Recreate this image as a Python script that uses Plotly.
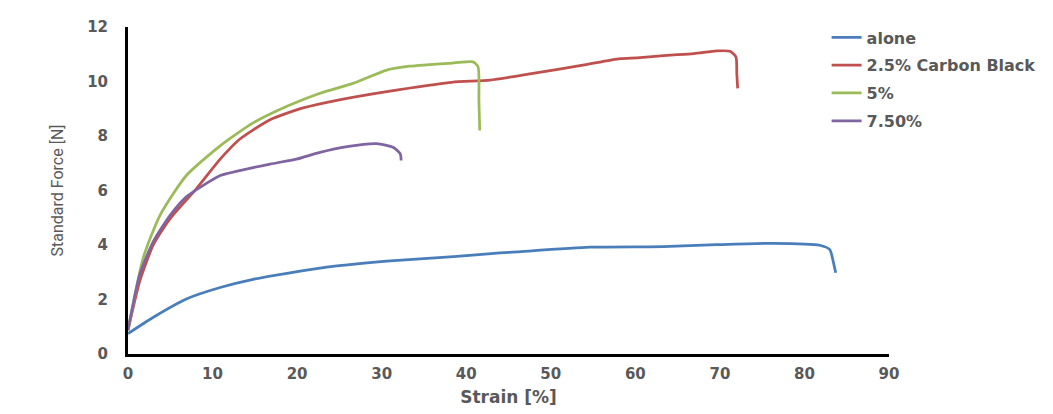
import plotly.graph_objects as go

# ---- data ----
alone_x = [0, 3.0, 6.9, 10.9, 14.8, 18.8, 24.7, 30.6, 38.5, 44.0, 46.0, 54.6, 63.3, 69.6, 76.3, 81.8, 83.0, 83.4, 83.7]
alone_y = [0.75, 1.35, 2.02, 2.44, 2.74, 2.96, 3.23, 3.41, 3.57, 3.71, 3.75, 3.92, 3.94, 4.01, 4.06, 3.99, 3.83, 3.4, 2.98]

cb25_x = [0, 1.4, 3.0, 5.0, 8.1, 10.9, 13.2, 16.8, 20.7, 24.7, 30.6, 38.3, 42.8, 47.9, 53.8, 58.2, 60.2, 63.7, 66.9, 69.6, 71.2, 71.9, 72.0, 72.1]
cb25_y = [0.87, 2.68, 4.01, 4.98, 6.07, 7.15, 7.88, 8.6, 9.03, 9.31, 9.63, 9.97, 10.05, 10.3, 10.6, 10.84, 10.87, 10.96, 11.02, 11.12, 11.11, 10.9, 10.3, 9.75]

cb5_x = [0, 1.8, 3.8, 6.9, 10.9, 14.8, 18.8, 22.7, 26.6, 30.6, 33.3, 38.5, 40.8, 41.4, 41.5, 41.6]
cb5_y = [0.87, 3.53, 5.1, 6.55, 7.64, 8.48, 9.09, 9.57, 9.93, 10.42, 10.56, 10.68, 10.72, 10.54, 9.3, 8.2]

cb75_x = [0, 1.4, 3.0, 5.0, 6.9, 8.9, 10.9, 13.2, 16.8, 19.9, 22.7, 25.9, 29.4, 31.4, 32.2, 32.3]
cb75_y = [0.87, 2.93, 4.13, 5.1, 5.77, 6.19, 6.55, 6.73, 6.97, 7.15, 7.4, 7.61, 7.72, 7.58, 7.34, 7.1]

series_names = ["alone", "2.5% Carbon Black", "5%", "7.50%"]
series_colors = ["#4A7EBB", "#C0504D", "#9BBB59", "#8064A2"]

x_ticks = [0, 10, 20, 30, 40, 50, 60, 70, 80, 90]
y_ticks = [0, 2, 4, 6, 8, 10, 12]

fig = go.Figure()
for i, (xs, ys) in enumerate([(alone_x, alone_y), (cb25_x, cb25_y), (cb5_x, cb5_y), (cb75_x, cb75_y)]):
    fig.add_trace(go.Scatter(
        x=xs, y=ys, mode="lines", name=series_names[i],
        line=dict(color=series_colors[i], width=2.75, shape="spline", smoothing=0.6),
        legendgroup=f"g{i}",
    ))

tick_font = dict(family="DejaVu Sans", size=15, color="#595959", weight="bold")

fig.update_layout(
    width=1045, height=406,
    margin=dict(l=120, r=164, t=15, b=60),
    paper_bgcolor="white", plot_bgcolor="white",
    showlegend=True,
    legend=dict(
        x=0.918, y=1.02, xanchor="left", yanchor="top",
        font=dict(family="DejaVu Sans", size=16, color="#595959", weight="bold"),
        tracegroupgap=4, bgcolor="rgba(0,0,0,0)",
    ),
    xaxis=dict(
        range=[0, 90], tickvals=x_ticks, showgrid=False, zeroline=False,
        showline=True, linecolor="black", linewidth=3,
        ticks="outside", ticklen=4, tickcolor="rgba(0,0,0,0)",
        tickfont=tick_font,
        title=dict(text="Strain [%]", font=dict(family="DejaVu Sans", size=17, color="#595959", weight="bold"), standoff=10),
        automargin=False,
    ),
    yaxis=dict(
        range=[0, 12], tickvals=y_ticks, showgrid=False, zeroline=False,
        showline=True, linecolor="black", linewidth=3,
        ticks="outside", ticklen=14, tickcolor="rgba(0,0,0,0)",
        tickfont=tick_font,
        title=dict(text="Standard Force [N]", font=dict(family="Liberation Sans Narrow, Roboto, sans-serif", size=16, color="#595959"), standoff=20),
        automargin=False,
    ),
)

fig.write_html("out.html")
